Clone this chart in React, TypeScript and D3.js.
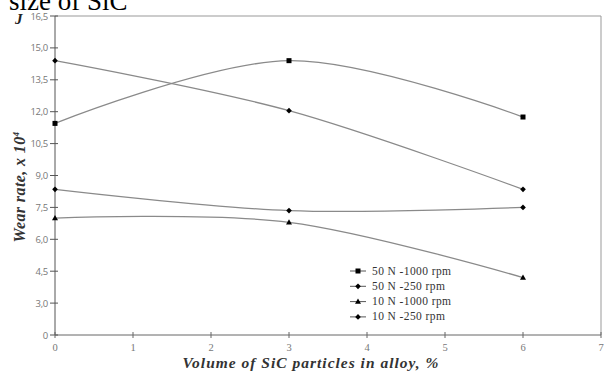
import React from "react";
import * as d3 from "d3";

const xValues = [0, 3, 6];
const seriesNames = ["50 N -1000 rpm", "50 N -250 rpm", "10 N -1000 rpm", "10 N -250 rpm"];
const s50n1000 = [11.45, 14.4, 11.75];
const s50n250 = [14.4, 12.05, 8.35];
const s10n1000 = [7.0, 6.8, 4.2];
const s10n250 = [8.35, 7.35, 7.5];
const seriesMarkers = ["square", "dot", "triangle", "dot"];
const xTicks = [0, 1, 2, 3, 4, 5, 6, 7];
const yTickValues = [1.5, 3, 4.5, 6, 7.5, 9, 10.5, 12, 13.5, 15, 16.5];
const yTickLabels = ["0", "3,0", "4,5", "6,0", "7,5", "9,0", "10,5", "12,0", "13,5", "15,0", "16,5"];

const W = 604;
const H = 372;
const left = 55, right = 601, top = 16, bottom = 335;

function Marker({ type, x, y }: { type: string; x: number; y: number }) {
  if (type === "square") return <rect x={x - 2.5} y={y - 2.5} width={5} height={5} fill="#000" />;
  if (type === "triangle") {
    const p = `${x},${y - 3} ${x - 3},${y + 2.2} ${x + 3},${y + 2.2}`;
    return <polygon points={p} fill="#000" />;
  }
  return <rect x={x - 2} y={y - 2} width={4} height={4} fill="#000" transform={`rotate(45 ${x} ${y})`} />;
}

export default function App() {
  const x = d3.scaleLinear().domain([0, 7]).range([left, right]);
  const y = d3.scaleLinear().domain([1.5, 16.5]).range([bottom, top]);
  const allSeries = [s50n1000, s50n250, s10n1000, s10n250];
  const line = d3
    .line<number>()
    .x((_, i) => x(xValues[i]))
    .y((d) => y(d))
    .curve(d3.curveCardinal.tension(0));

  const legX = 350;
  const legY0 = 271;
  const legDy = 15.3;

  return (
    <svg width={W} height={H} style={{ position: "absolute", left: 0, top: 0, background: "#fff" }}>
      <rect x={0} y={0} width={W} height={H} fill="#fff" />
      <text x={9} y={10} fontFamily="Liberation Serif" fontSize={27} fill="#000">size of SiC</text>
      <text x={15} y={24} fontFamily="Liberation Serif" fontSize={15} fontWeight="bold" fontStyle="italic" fill="#222">J</text>

      {/* frame */}
      <line x1={left} x2={right} y1={top} y2={top} stroke="#999" strokeWidth={1} />
      <line x1={right} x2={right} y1={top} y2={bottom} stroke="#999" strokeWidth={1} />
      <line x1={left} x2={left} y1={top} y2={bottom} stroke="#555" strokeWidth={1} />
      <line x1={left} x2={right} y1={bottom} y2={bottom} stroke="#666" strokeWidth={1} />

      {/* y ticks */}
      {yTickValues.map((v, i) => (
        <g key={"y" + i}>
          <line x1={left - 5} x2={left + 3} y1={y(v)} y2={y(v)} stroke="#555" />
          <text x={left - 7} y={y(v) + 3.5} textAnchor="end" fontFamily="Open Sans" fontSize={9.5} fill="#777" letterSpacing={-0.3}>
            {yTickLabels[i]}
          </text>
        </g>
      ))}

      {/* x ticks */}
      {xTicks.map((t) => (
        <g key={"x" + t}>
          <line x1={x(t)} x2={x(t)} y1={bottom - 3} y2={bottom + 3} stroke="#666" />
          <text x={x(t)} y={bottom + 16} textAnchor="middle" fontFamily="Liberation Serif" fontSize={10.5} fill="#777">
            {t}
          </text>
        </g>
      ))}

      {/* axis titles */}
      <text x={311} y={368} textAnchor="middle" fontFamily="Liberation Serif" fontSize={15.5} fontWeight="bold" fontStyle="italic" fill="#333" letterSpacing={1}>
        Volume of SiC particles in alloy, %
      </text>
      <text transform="translate(25,187) rotate(-90)" textAnchor="middle" fontFamily="Liberation Serif" fontSize={16} fontWeight="bold" fontStyle="italic" fill="#333" letterSpacing={0.4}>
        Wear rate, x 10<tspan dy={-6} fontSize={9}>4</tspan>
      </text>

      {/* series */}
      {allSeries.map((s, si) => (
        <g key={"s" + si}>
          <path d={line(s) || ""} fill="none" stroke="#8a8a8a" strokeWidth={1.3} />
          {s.map((v, i) => (
            <Marker key={i} type={seriesMarkers[si]} x={x(xValues[i])} y={y(v)} />
          ))}
        </g>
      ))}

      {/* legend */}
      {seriesNames.map((n, i) => (
        <g key={"l" + i}>
          <line x1={legX} x2={legX + 16} y1={legY0 + i * legDy} y2={legY0 + i * legDy} stroke="#555" strokeWidth={1} />
          <Marker type={seriesMarkers[i]} x={legX + 8} y={legY0 + i * legDy} />
          <text x={legX + 22} y={legY0 + i * legDy + 3.5} fontFamily="Liberation Serif" fontSize={11.5} fill="#333" letterSpacing={0.4}>
            {n}
          </text>
        </g>
      ))}
    </svg>
  );
}
